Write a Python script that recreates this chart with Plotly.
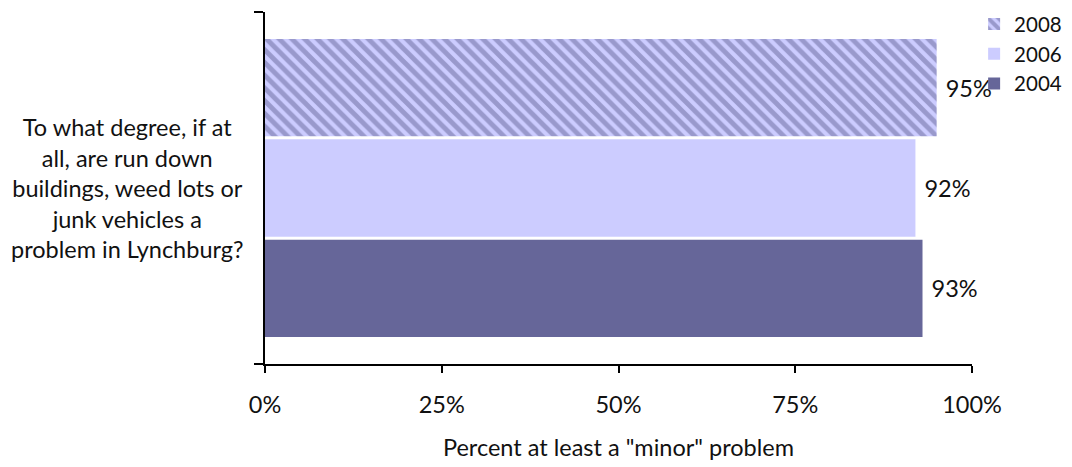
import plotly.graph_objects as go

# Survey results, percent saying it is at least a "minor" problem
question = "To what degree, if at all, are run down buildings, weed lots or junk vehicles a problem in Lynchburg?"
question_lines = ["To what degree, if at", "all, are run down", "buildings, weed lots or",
                  "junk vehicles a", "problem in Lynchburg?"]
years = ["2004", "2006", "2008"]
values = [93, 92, 95]
x_ticks = [0, 25, 50, 75, 100]
x_tick_labels = ["0%", "25%", "50%", "75%", "100%"]

FONT = "Lato, 'Open Sans', sans-serif"
FS = 23.5

styles = {
    "2004": dict(color="#666699"),
    "2006": dict(color="#CCCCFF"),
    "2008": dict(color="#CCCCFF",
                 pattern=dict(shape="\\", fgcolor="#666699", bgcolor="#CCCCFF",
                              size=9, solidity=0.55)),
}

fig = go.Figure()
for yr, val in zip(years, values):
    fig.add_trace(go.Bar(
        name=yr,
        y=[question],
        x=[val],
        orientation="h",
        marker=dict(line=dict(width=0), **styles[yr]),
        text=[f" {val}%"],
        textposition="outside",
        textfont=dict(family=FONT, size=FS, color="#111111"),
        cliponaxis=False,
    ))

fig.update_layout(
    width=1072, height=467,
    margin=dict(l=265, r=100, t=12, b=103, autoexpand=False),
    paper_bgcolor="white", plot_bgcolor="white",
    barmode="group", bargap=0.145, bargroupgap=0.03,
    font=dict(family=FONT, size=FS, color="#111111"),
    legend=dict(x=1.003, y=1.022, xanchor="left", yanchor="top",
                traceorder="reversed", font=dict(size=20.5),
                itemwidth=30, tracegroupgap=0, bgcolor="rgba(0,0,0,0)"),
)

fig.update_xaxes(
    range=[0, 100], tickvals=x_ticks, ticktext=x_tick_labels,
    showgrid=False, zeroline=False,
    showline=True, linecolor="black", linewidth=2,
    ticks="outside", ticklen=7, tickwidth=2, tickcolor="black",
    ticklabelstandoff=12,
    tickfont=dict(size=FS),
    title=dict(text='Percent at least a "minor" problem', font=dict(size=FS), standoff=22),
)

fig.update_yaxes(
    type="category", tickson="boundaries",
    showticklabels=False, showgrid=False, zeroline=False,
    showline=True, linecolor="black", linewidth=2,
    ticks="outside", ticklen=9, tickwidth=2, tickcolor="black",
)

# Category label, centred line by line to the left of the axis
fig.add_annotation(
    text="<br>".join(question_lines),
    xref="paper", yref="paper", x=-0.194, y=0.5,
    xanchor="center", yanchor="middle", align="center",
    showarrow=False, font=dict(family=FONT, size=FS, color="#111111"),
)

fig.write_html("out.html")
